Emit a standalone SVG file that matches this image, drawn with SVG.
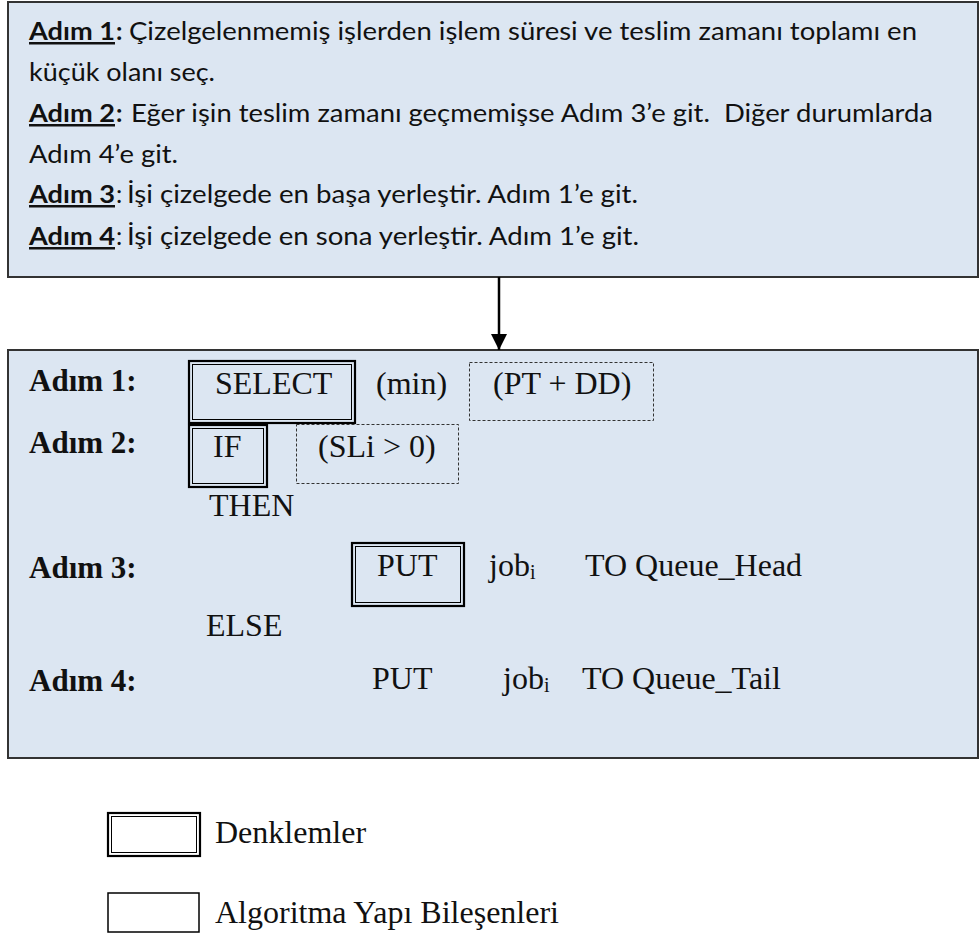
<svg xmlns="http://www.w3.org/2000/svg" width="979" height="936" viewBox="0 0 979 936">
  <style>
    .panel { fill: #dce6f2; stroke: #333333; stroke-width: 2; }
    .dbl-out { fill: none; stroke: #000000; stroke-width: 2.2; }
    .dbl-in { fill: none; stroke: #000000; stroke-width: 1; }
    .dash { fill: none; stroke: #333333; stroke-width: 1; stroke-dasharray: 3 2; }
    .single { fill: none; stroke: #000000; stroke-width: 1.5; }
    .sans { font-family: Lato, "Open Sans", "Liberation Sans", sans-serif; font-size: 25px; fill: #111111; }
    .sans-b { font-weight: bold; }
    .ul { text-decoration: underline; }
    .serif { font-family: "Liberation Serif", "Times New Roman", serif; font-size: 32px; fill: #111111; }
    .serif-b { font-weight: bold; font-size: 31px; }
    .sub { font-size: 20px; }
    .conn { stroke: #000000; stroke-width: 2.5; fill: none; }
  </style>
  <defs>
    <marker id="arrowhead" markerUnits="userSpaceOnUse" markerWidth="18" markerHeight="18" viewBox="0 0 18 18" refX="16" refY="9" orient="auto">
      <path d="M0,1 L16,9 L0,17 Z" fill="#000000"/>
    </marker>
  </defs>

  <!-- Verbal description of the heuristic -->
  <g id="steps-text">
    <rect class="panel" x="8" y="2" width="970" height="275"/>
    <text class="sans sans-b ul" x="29" y="40" textLength="86" lengthAdjust="spacingAndGlyphs">Adım 1</text>
    <text class="sans sans-b" x="116" y="40">:</text>
    <text class="sans" x="129" y="40" textLength="788" lengthAdjust="spacingAndGlyphs">Çizelgelenmemiş işlerden işlem süresi ve teslim zamanı toplamı en</text>
    <text class="sans" x="29" y="81" textLength="186" lengthAdjust="spacingAndGlyphs">küçük olanı seç.</text>
    <text class="sans sans-b ul" x="29" y="122" textLength="86" lengthAdjust="spacingAndGlyphs">Adım 2</text>
    <text class="sans sans-b" x="116" y="122">:</text>
    <text class="sans" x="131" y="122" textLength="802" lengthAdjust="spacingAndGlyphs" xml:space="preserve">Eğer işin teslim zamanı geçmemişse Adım 3’e git.  Diğer durumlarda</text>
    <text class="sans" x="29" y="163" textLength="149" lengthAdjust="spacingAndGlyphs">Adım 4’e git.</text>
    <text class="sans sans-b ul" x="29" y="203" textLength="86" lengthAdjust="spacingAndGlyphs">Adım 3</text>
    <text class="sans" x="116" y="203">:</text>
    <text class="sans" x="127" y="203" textLength="511" lengthAdjust="spacingAndGlyphs">İşi çizelgede en başa yerleştir. Adım 1’e git.</text>
    <text class="sans sans-b ul" x="29" y="245" textLength="86" lengthAdjust="spacingAndGlyphs">Adım 4</text>
    <text class="sans" x="116" y="245">:</text>
    <text class="sans" x="127" y="245" textLength="512" lengthAdjust="spacingAndGlyphs">İşi çizelgede en sona yerleştir. Adım 1’e git.</text>
  </g>

  <!-- Structured pseudocode of the same heuristic -->
  <g id="pseudocode">
    <rect class="panel" x="8" y="350" width="970" height="408"/>
    <text class="serif serif-b" x="29" y="391">Adım 1:</text>
    <text class="serif serif-b" x="29" y="453">Adım 2:</text>
    <text class="serif" x="209" y="516" font-size="30">THEN</text>
    <text class="serif serif-b" x="29" y="578">Adım 3:</text>
    <text class="serif" x="206" y="636">ELSE</text>
    <text class="serif serif-b" x="29" y="691">Adım 4:</text>
  </g>

  <g id="select-box">
    <rect class="dbl-out" x="189" y="361" width="166" height="62"/>
    <rect class="dbl-in" x="192.5" y="364.5" width="159" height="55"/>
    <text class="serif" x="215" y="394">SELECT</text>
  </g>
  <g id="min-label">
    <text class="serif" x="376" y="394">(min)</text>
  </g>
  <g id="pt-dd-box">
    <rect class="dash" x="469.5" y="362.5" width="184" height="58"/>
    <text class="serif" x="493" y="394">(PT + DD)</text>
  </g>

  <g id="if-box">
    <rect class="dbl-out" x="189" y="425" width="78" height="62"/>
    <rect class="dbl-in" x="192.5" y="428.5" width="71" height="55"/>
    <text class="serif" x="213" y="457">IF</text>
  </g>
  <g id="sli-box">
    <rect class="dash" x="296.5" y="424.5" width="162" height="59"/>
    <text class="serif" x="318" y="457">(SLi &gt; 0)</text>
  </g>

  <g id="put-head">
    <rect class="dbl-out" x="352" y="543" width="112" height="63"/>
    <rect class="dbl-in" x="355.5" y="546.5" width="105" height="56"/>
    <text class="serif" x="377" y="576">PUT</text>
    <text class="serif" x="489" y="576">job<tspan class="sub" dy="3">i</tspan></text>
    <text class="serif" x="585" y="576">TO Queue_Head</text>
  </g>

  <g id="put-tail">
    <text class="serif" x="372" y="689">PUT</text>
    <text class="serif" x="503" y="689">job<tspan class="sub" dy="3">i</tspan></text>
    <text class="serif" x="582" y="689">TO Queue_Tail</text>
  </g>

  <!-- Legend -->
  <g id="legend-equations">
    <rect class="dbl-out" x="108" y="813" width="92" height="43"/>
    <rect class="dbl-in" x="111.5" y="816.5" width="85" height="36"/>
    <text class="serif" x="215" y="843" font-size="31">Denklemler</text>
  </g>
  <g id="legend-components">
    <rect class="single" x="108" y="893" width="91" height="39"/>
    <text class="serif" x="215" y="923" font-size="31">Algoritma Yapı Bileşenleri</text>
  </g>

  <g id="connectors">
    <line class="conn" x1="499" y1="277" x2="499" y2="350" marker-end="url(#arrowhead)"/>
  </g>
</svg>
